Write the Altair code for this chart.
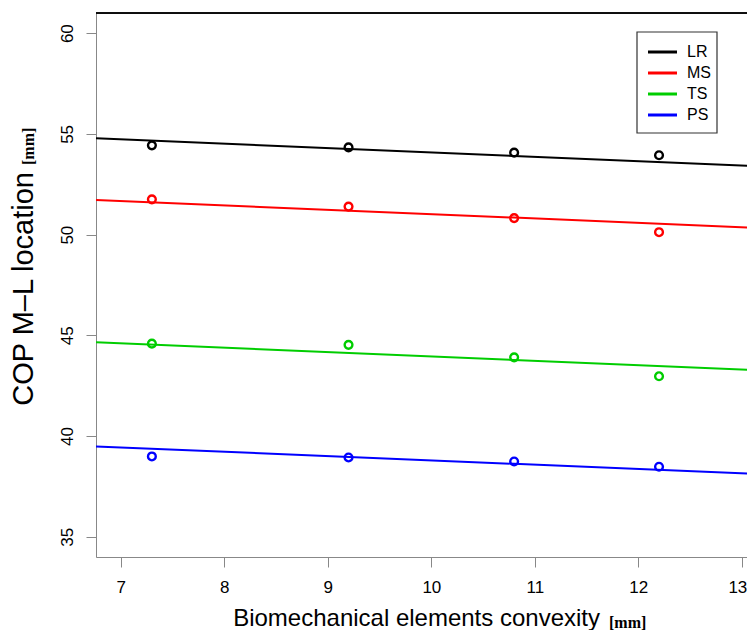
import altair as alt
import pandas as pd

# ---- data ----
conv = [7.3, 9.2, 10.8, 12.2]
series = ["LR", "MS", "TS", "PS"]
colors = ["#000000", "#FF0000", "#00CD00", "#0000FF"]
LR = [54.43, 54.33, 54.07, 53.94]
MS = [51.75, 51.39, 50.82, 50.12]
TS = [44.59, 44.53, 43.91, 42.97]
PS = [38.99, 38.94, 38.74, 38.48]

fit_x = [6.76, 13.135]
LR_fit = [54.78, 53.40]
MS_fit = [51.72, 50.34]
TS_fit = [44.66, 43.27]
PS_fit = [39.49, 38.12]

x_ticks = [7, 8, 9, 10, 11, 12, 13]
y_ticks = [35, 40, 45, 50, 55, 60]
x_domain = [6.76, 13.05]
y_domain = [34, 61]

W, H = 651, 544

pts = pd.DataFrame(
    [{"x": xv, "y": yv, "s": s}
     for s, vals in zip(series, [LR, MS, TS, PS])
     for xv, yv in zip(conv, vals)]
)
fits = pd.DataFrame(
    [{"x": xv, "y": yv, "s": s}
     for s, vals in zip(series, [LR_fit, MS_fit, TS_fit, PS_fit])
     for xv, yv in zip(fit_x, vals)]
)
leg = pd.DataFrame({"s": series, "i": list(range(len(series)))})

xs = alt.Scale(domain=x_domain, nice=False, zero=False)
ys = alt.Scale(domain=y_domain, nice=False, zero=False)
cs = alt.Scale(domain=series, range=colors)

xaxis = alt.Axis(values=x_ticks, title=None, grid=False, tickSize=10,
                 labelPadding=12, labelFontSize=17, format="d",
                 labelFlush=8, labelFlushOffset=5)
yaxis = alt.Axis(values=y_ticks, title=None, grid=False, tickSize=10,
                 labelAngle=270, labelAlign="center", labelBaseline="bottom",
                 labelPadding=10, labelFontSize=17, format="d")

lines = alt.Chart(fits).mark_line(strokeWidth=2, clip=True).encode(
    x=alt.X("x:Q", scale=xs, axis=xaxis),
    y=alt.Y("y:Q", scale=ys, axis=yaxis),
    color=alt.Color("s:N", scale=cs, legend=None),
    detail="s:N",
)
points = alt.Chart(pts).mark_point(shape="circle", filled=False, size=60,
                                   strokeWidth=2.4, opacity=1).encode(
    x=alt.X("x:Q", scale=xs),
    y=alt.Y("y:Q", scale=ys),
    color=alt.Color("s:N", scale=cs, legend=None),
)

top_border = alt.Chart(leg).mark_rule(color="black", strokeWidth=1).encode(
    x=alt.value(0), x2=alt.value(W), y=alt.value(0)
)

# legend box
box = alt.Chart(pd.DataFrame({"a": [0]})).mark_rect(
    fill="white", stroke="#333333", strokeWidth=1.2
).encode(x=alt.value(541), x2=alt.value(621), y=alt.value(19), y2=alt.value(120))
leg_base = alt.Chart(leg).transform_calculate(py="39 + 21*datum.i")
leg_lines = leg_base.mark_rule(strokeWidth=3).encode(
    x=alt.value(552), x2=alt.value(581),
    y=alt.Y("py:Q", scale=None),
    color=alt.Color("s:N", scale=cs, legend=None),
)
leg_text = leg_base.mark_text(align="left", baseline="middle", fontSize=16,
                              font="Liberation Sans", color="black").encode(
    x=alt.value(591), y=alt.Y("py:Q", scale=None), text="s:N"
)

# axis titles
xt = alt.Chart(pd.DataFrame({"t": ["Biomechanical elements convexity"]})).mark_text(
    align="right", baseline="alphabetic", fontSize=24, font="Liberation Sans", color="black"
).encode(x=alt.value(504), y=alt.value(613), text="t:N")
xt2 = alt.Chart(pd.DataFrame({"t": ["[mm]"]})).mark_text(
    align="left", baseline="alphabetic", fontSize=16, font="Liberation Serif",
    fontWeight="bold", color="black"
).encode(x=alt.value(513), y=alt.value(615), text="t:N")
yt = alt.Chart(pd.DataFrame({"t": ["COP M\u2013L location"]})).mark_text(
    align="right", baseline="alphabetic", fontSize=29, font="Liberation Sans",
    color="black", angle=270
).encode(x=alt.value(-63), y=alt.value(159), text="t:N")
yt2 = alt.Chart(pd.DataFrame({"t": ["[mm]"]})).mark_text(
    align="left", baseline="alphabetic", fontSize=16, font="Liberation Serif",
    fontWeight="bold", color="black", angle=270
).encode(x=alt.value(-62), y=alt.value(152), text="t:N")

chart = alt.layer(
    lines, points, top_border, box, leg_lines, leg_text, xt, xt2, yt, yt2
).properties(
    width=W, height=H,
    autosize=alt.AutoSizeParams(type="none"),
    padding={"left": 88, "top": 5, "right": 0, "bottom": 73},
).configure_view(stroke=None).configure_axis(
    domainColor="black", tickColor="black", labelColor="black",
    labelFont="Liberation Sans", domainWidth=1, tickWidth=1,
).configure(background="white")

chart.save("out.html", embed_options={"renderer": "svg", "actions": False})
